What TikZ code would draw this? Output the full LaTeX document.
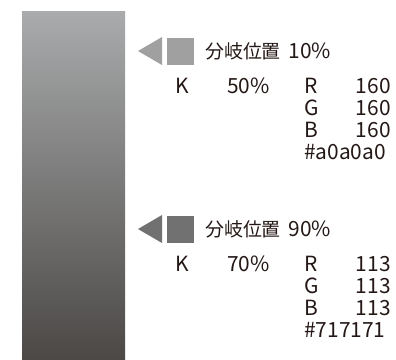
\documentclass[tikz,border=0pt]{standalone}
\usepackage{fontspec}
\setmainfont{Noto Sans CJK JP}
\usetikzlibrary{positioning}

\definecolor{ink}{HTML}{231815}
\definecolor{barTop}{HTML}{A9ABAC}
\definecolor{barMid}{HTML}{878787}
\definecolor{barBot}{HTML}{4B4846}
\definecolor{markA}{HTML}{A0A0A0}
\definecolor{markB}{HTML}{717171}

\newcommand{\jp}[1]{{\fontsize{19}{22}\selectfont #1}\hspace{3bp}}

\tikzset{
  txt/.style = {text=ink, inner sep=0pt, font=\fontsize{21}{22}\selectfont},
  lbl/.style = {txt, anchor=base west},
  val/.style = {txt, anchor=base east}
}

\begin{document}
\begin{tikzpicture}[x=1bp, y=-1bp]
\useasboundingbox (0,0) rectangle (396,360);
% gradient bar
\shade[top color=barTop, middle color=barMid, bottom color=barBot] (22,11) rectangle (125,360);

% branch point 10%
\fill[markA] (138,51) -- (162,37) -- (162,65) -- cycle;
\fill[markA] (167,38) rectangle (194,65);
\node[lbl] (headA) at (205,58) {\jp{分岐位置} 10\%};
\node[lbl] (kA) at (175,93) {K};
\node[lbl] (kvalA) at (227,93) {50\%};
\node[lbl] (rA) at (304,93) {R};
\node[val] (rvalA) at (391,93) {160};
\node[lbl] (gA) at (304,115) {G};
\node[val] (gvalA) at (391,115) {160};
\node[lbl] (bA) at (304,137) {B};
\node[val] (bvalA) at (391,137) {160};
\node[lbl] (hexA) at (304,159) {\#a0a0a0};

% branch point 90%
\fill[markB] (138,229) -- (162,215) -- (162,243) -- cycle;
\fill[markB] (167,216) rectangle (194,243);
\node[lbl] (headB) at (205,236) {\jp{分岐位置} 90\%};
\node[lbl] (kB) at (175,271) {K};
\node[lbl] (kvalB) at (227,271) {70\%};
\node[lbl] (rB) at (304,271) {R};
\node[val] (rvalB) at (391,271) {113};
\node[lbl] (gB) at (304,293) {G};
\node[val] (gvalB) at (391,293) {113};
\node[lbl] (bB) at (304,315) {B};
\node[val] (bvalB) at (391,315) {113};
\node[lbl] (hexB) at (304,337) {\#717171};
\end{tikzpicture}
\end{document}
